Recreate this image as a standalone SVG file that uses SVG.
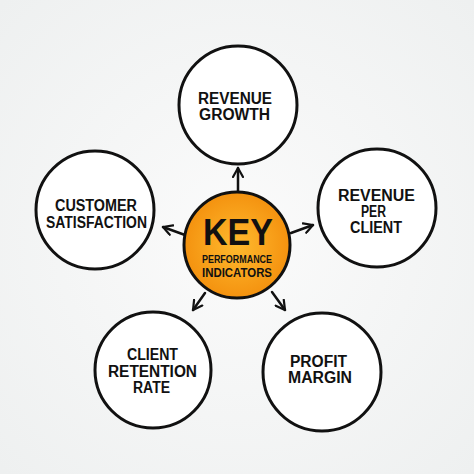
<svg xmlns="http://www.w3.org/2000/svg" width="474" height="474" viewBox="0 0 474 474">
<defs>
<radialGradient id="bg" cx="50%" cy="50%" r="70%">
<stop offset="0" stop-color="#fbfbfb"/>
<stop offset="1" stop-color="#eef0f0"/>
</radialGradient>
<radialGradient id="og" cx="50%" cy="50%" r="50%">
<stop offset="0" stop-color="#ffba2e"/>
<stop offset="1" stop-color="#f4920f"/>
</radialGradient>
<marker id="ah" viewBox="0 0 12 12" refX="10" refY="6" markerWidth="12" markerHeight="12" markerUnits="userSpaceOnUse" orient="auto">
<path d="M1,1 L10,6 L1,11" fill="none" stroke="#111" stroke-width="2.2" stroke-linecap="round" stroke-linejoin="round"/>
</marker>
</defs>
<style>
.c{fill:#fff;stroke:#111;stroke-width:3}
.t{font-family:"Liberation Sans",Arial,sans-serif;font-weight:bold;font-size:16px;fill:#111;text-anchor:middle}
.a{stroke:#111;stroke-width:2.5;fill:none;stroke-linecap:round;marker-end:url(#ah)}
</style>
<rect width="474" height="474" fill="url(#bg)"/>
<g id="connectors">
<line class="a" x1="238" y1="192" x2="238" y2="168"/>
<line class="a" x1="185" y1="235" x2="163" y2="227"/>
<line class="a" x1="291" y1="233" x2="313" y2="225"/>
<line class="a" x1="205" y1="293" x2="193" y2="310"/>
<line class="a" x1="272" y1="292" x2="285" y2="310"/>
</g>
<g id="center">
<circle cx="237" cy="245" r="53" fill="url(#og)" stroke="#111" stroke-width="3"/>
<text class="t" x="238" y="245" style="font-size:36px;font-weight:900" textLength="70" lengthAdjust="spacingAndGlyphs">KEY</text>
<text class="t" x="237" y="263" style="font-size:11px" textLength="70" lengthAdjust="spacingAndGlyphs">PERFORMANCE</text>
<text class="t" x="237" y="277" style="font-size:13px" textLength="70" lengthAdjust="spacingAndGlyphs">INDICATORS</text>
</g>
<g id="revenue-growth">
<circle class="c" cx="238" cy="105" r="59"/>
<text class="t" x="235" y="104" textLength="74" lengthAdjust="spacingAndGlyphs">REVENUE</text>
<text class="t" x="234.5" y="120" textLength="71" lengthAdjust="spacingAndGlyphs">GROWTH</text>
</g>
<g id="customer-satisfaction">
<circle class="c" cx="95" cy="210" r="59"/>
<text class="t" x="96" y="211" textLength="82" lengthAdjust="spacingAndGlyphs">CUSTOMER</text>
<text class="t" x="96.5" y="228" textLength="101" lengthAdjust="spacingAndGlyphs">SATISFACTION</text>
</g>
<g id="revenue-per-client">
<circle class="c" cx="377" cy="208" r="59"/>
<text class="t" x="376.5" y="201" textLength="77" lengthAdjust="spacingAndGlyphs">REVENUE</text>
<text class="t" x="373.5" y="217" textLength="25" lengthAdjust="spacingAndGlyphs">PER</text>
<text class="t" x="376" y="233" textLength="52" lengthAdjust="spacingAndGlyphs">CLIENT</text>
</g>
<g id="client-retention-rate">
<circle class="c" cx="153" cy="370" r="58"/>
<text class="t" x="152.5" y="360" textLength="51" lengthAdjust="spacingAndGlyphs">CLIENT</text>
<text class="t" x="152.5" y="377" textLength="89" lengthAdjust="spacingAndGlyphs">RETENTION</text>
<text class="t" x="151.5" y="393" textLength="37" lengthAdjust="spacingAndGlyphs">RATE</text>
</g>
<g id="profit-margin">
<circle class="c" cx="322" cy="372" r="59"/>
<text class="t" x="318.5" y="367" textLength="57" lengthAdjust="spacingAndGlyphs">PROFIT</text>
<text class="t" x="320" y="383" textLength="64" lengthAdjust="spacingAndGlyphs">MARGIN</text>
</g>
</svg>
